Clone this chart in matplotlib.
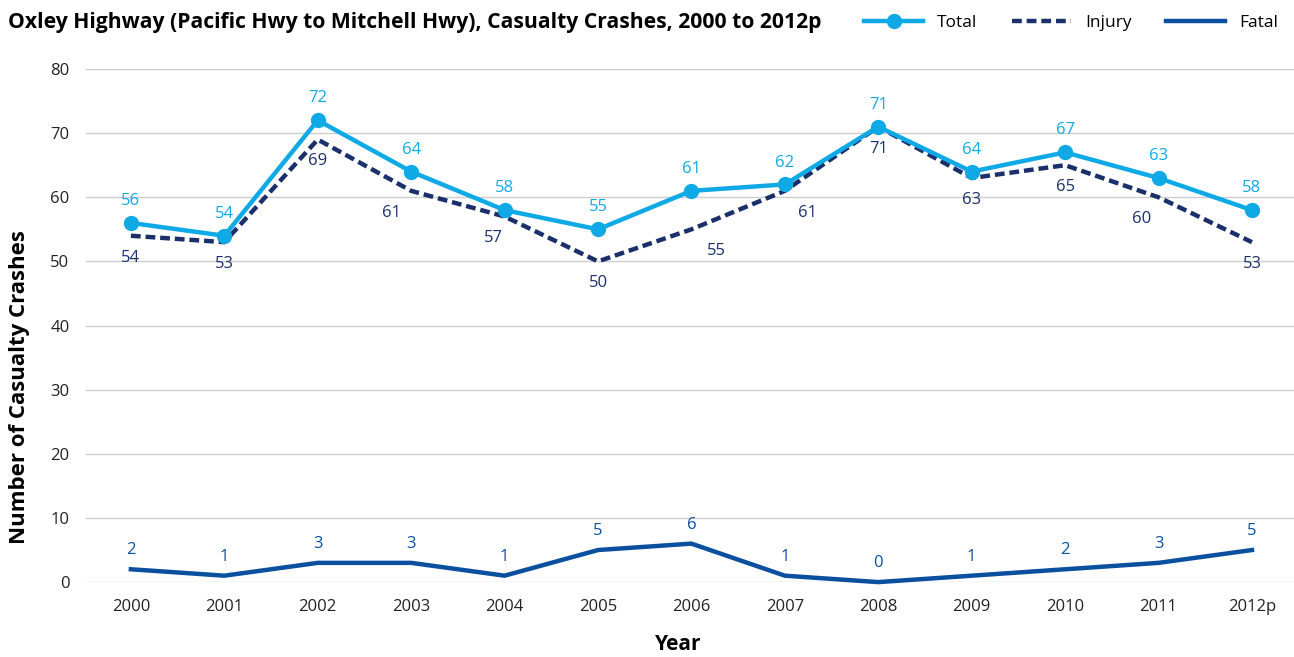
import numpy as np
import matplotlib.pyplot as plt

plt.rcParams['font.family'] = ['Open Sans', 'DejaVu Sans']

years = ['2000', '2001', '2002', '2003', '2004', '2005', '2006',
         '2007', '2008', '2009', '2010', '2011', '2012p']
total = [56, 54, 72, 64, 58, 55, 61, 62, 71, 64, 67, 63, 58]
injury = [54, 53, 69, 61, 57, 50, 55, 61, 71, 63, 65, 60, 53]
fatal = [2, 1, 3, 3, 1, 5, 6, 1, 0, 1, 2, 3, 5]

# horizontal nudges (points) for the injury labels so they clear the lines
injury_dx = [0, 0, 0, -14, -8, 0, 18, 16, 0, 0, 0, -12, 0]

c_total = '#0fa9e6'
c_injury = '#1b2f6b'
c_fatal = '#0b4f9f'

fig = plt.figure(figsize=(12.94, 6.57), dpi=100)
ax = fig.add_axes([0.0665, 0.114, 0.9335, 0.781])
x = np.arange(len(years))

ax.plot(x, total, color=c_total, lw=3.2, marker='o', ms=10, zorder=4)
ax.plot(x, injury, color=c_injury, lw=3.2, ls=(0, (2.2, 1.1)), zorder=3)
ax.plot(x, fatal, color=c_fatal, lw=3.2, zorder=3, clip_on=False)

for i in x:
    ax.annotate(str(total[i]), (i, total[i]), xytext=(0, 10), textcoords='offset points',
                ha='center', va='bottom', color=c_total, fontsize=12)
    ax.annotate(str(injury[i]), (i, injury[i]), xytext=(injury_dx[i], -10),
                textcoords='offset points', ha='center', va='top', color=c_injury, fontsize=12)
    ax.annotate(str(fatal[i]), (i, fatal[i]), xytext=(0, 8), textcoords='offset points',
                ha='center', va='bottom', color=c_fatal, fontsize=12)

ax.set_xlim(-0.48, 12.45)
ax.set_ylim(0, 80)
ax.set_yticks(range(0, 81, 10))
ax.set_xticks(x)
ax.set_xticklabels(years)
ax.tick_params(length=0, labelsize=12, colors='#222222')
ax.tick_params(axis='x', pad=12)
ax.tick_params(axis='y', pad=12)
ax.grid(axis='y', color='#cccccc', lw=1)
ax.set_axisbelow(True)
for s in ax.spines.values():
    s.set_visible(False)

ax.set_xlabel('Year', fontsize=15, fontweight='bold')
ax.xaxis.set_label_coords(0.49, -0.102)
ax.set_ylabel('Number of Casualty Crashes', fontsize=16, fontweight='bold')
ax.yaxis.set_label_coords(-0.046, 0.38)

fig.text(0.006, 0.965, 'Oxley Highway (Pacific Hwy to Mitchell Hwy), Casualty Crashes, 2000 to 2012p',
         fontsize=15.2, fontweight='bold', va='center', ha='left')

handles = [
    plt.Line2D([], [], color=c_total, lw=3.2, marker='o', ms=10),
    plt.Line2D([], [], color=c_injury, lw=3.2, ls=(0, (2.2, 1.1))),
    plt.Line2D([], [], color=c_fatal, lw=3.2),
]
fig.legend(handles, ['Total', 'Injury', 'Fatal'], loc='center right',
           bbox_to_anchor=(1.0, 0.965), ncol=3, frameon=False, fontsize=12.5,
           handlelength=3.4, columnspacing=2.0, handletextpad=0.8)

fig.savefig('out.png', dpi=100)
